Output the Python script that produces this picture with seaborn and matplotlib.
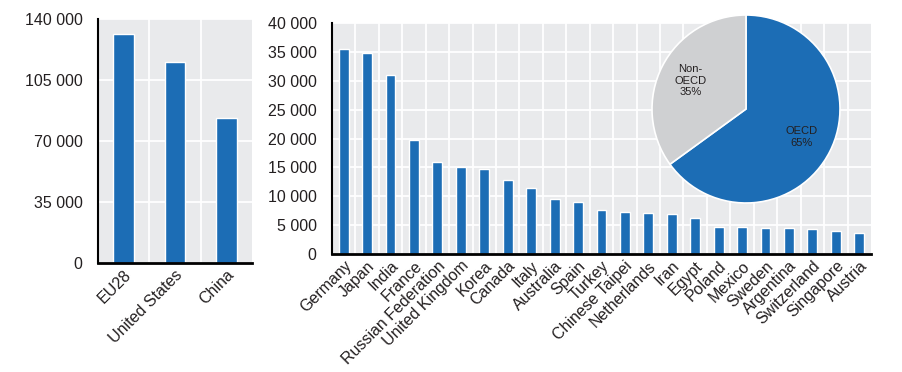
import numpy as np
import pandas as pd
import matplotlib
matplotlib.use("Agg")
import matplotlib.pyplot as plt
from matplotlib.ticker import FuncFormatter, FixedLocator, MultipleLocator
import seaborn as sns

# ---- data ----
big_names = ["EU28", "United States", "China"]
big_values = [131200, 115500, 83400]

country_names = ["Germany", "Japan", "India", "France", "Russian Federation",
                 "United Kingdom", "Korea", "Canada", "Italy", "Australia",
                 "Spain", "Turkey", "Chinese Taipei", "Netherlands", "Iran",
                 "Egypt", "Poland", "Mexico", "Sweden", "Argentina",
                 "Switzerland", "Singapore", "Austria"]
country_values = [35500, 34900, 31000, 19800, 16000, 15000, 14700, 12800,
                  11500, 9500, 9050, 7600, 7350, 7150, 6900, 6200, 4750,
                  4700, 4550, 4500, 4400, 3950, 3600]

pie_labels = ["OECD\n65%", "Non-\nOECD\n35%"]
pie_values = [65, 35]

BLUE = "#1c6db5"
GRAY_PIE = "#cfd0d2"
BG = "#e9eaec"
TXT = "#231f20"

sns.set_style("white", {"axes.facecolor": BG})
plt.rcParams["font.family"] = ["Liberation Sans", "DejaVu Sans"]
plt.rcParams["text.color"] = TXT
plt.rcParams["xtick.color"] = TXT
plt.rcParams["ytick.color"] = TXT

fig = plt.figure(figsize=(9.02, 3.72), dpi=100)
fig.patch.set_facecolor("white")

fmt = FuncFormatter(lambda v, p: f"{int(v):,}".replace(",", " "))


def style_axes(ax, n, ymax, ystep):
    ax.set_facecolor(BG)
    ax.set_xlim(-0.5, n - 0.5)
    ax.set_ylim(0, ymax)
    ax.yaxis.set_major_locator(MultipleLocator(ystep))
    ax.yaxis.set_major_formatter(fmt)
    ax.xaxis.set_minor_locator(FixedLocator(np.arange(0.5, n - 0.5, 1.0)))
    ax.set_axisbelow(True)
    ax.grid(axis="y", which="major", color="white", linewidth=1.3)
    ax.grid(axis="x", which="minor", color="white", linewidth=1.3)
    ax.grid(axis="x", which="major", visible=False)
    for s in ["top", "right"]:
        ax.spines[s].set_visible(False)
    ax.spines["left"].set_color("black")
    ax.spines["left"].set_linewidth(1.5)
    ax.spines["bottom"].set_color("black")
    ax.spines["bottom"].set_linewidth(2.0)
    ax.tick_params(axis="x", which="major", length=0, pad=3)
    ax.tick_params(axis="x", which="minor", direction="in", length=4,
                   width=1, color="black")
    ax.tick_params(axis="y", which="major", length=0, labelsize=11.5, pad=11)
    ax.set_xlabel("")
    ax.set_ylabel("")


# left panel
ax1 = fig.add_axes([0.1086, 0.293, 0.1707, 0.656])
sns.barplot(x=big_names, y=big_values, color=BLUE, width=0.4,
            saturation=1, ax=ax1)
style_axes(ax1, len(big_names), 140000, 35000)
ax1.set_xticks(range(len(big_names)))
ax1.set_xticklabels(big_names, rotation=45, ha="right",
                    rotation_mode="anchor", fontsize=11.5)

# right panel
ax2 = fig.add_axes([0.368, 0.317, 0.5976, 0.621])
sns.barplot(x=country_names, y=country_values, color=BLUE, width=0.42,
            saturation=1, ax=ax2)
style_axes(ax2, len(country_names), 40000, 5000)
ax2.set_xticks(range(len(country_names)))
ax2.set_xticklabels(country_names, rotation=45, ha="right",
                    rotation_mode="anchor", fontsize=11.5)

# pie inset
cx, cy, r = 746 / 902, (372 - 109) / 372, 94
w, h = 2 * r / 902, 2 * r / 372
ax3 = fig.add_axes([cx - w / 2, cy - h / 2, w, h])
wedges, texts = ax3.pie(pie_values, labels=pie_labels, colors=[BLUE, GRAY_PIE],
                        startangle=90, counterclock=False, labeldistance=0.66,
                        wedgeprops=dict(edgecolor="white", linewidth=1.2),
                        textprops=dict(fontsize=8, ha="center", va="center",
                                       color=TXT))
ax3.set_xlim(-1, 1)
ax3.set_ylim(-1, 1)
ax3.set_aspect("equal")

fig.savefig("out.png", dpi=100, facecolor="white")
